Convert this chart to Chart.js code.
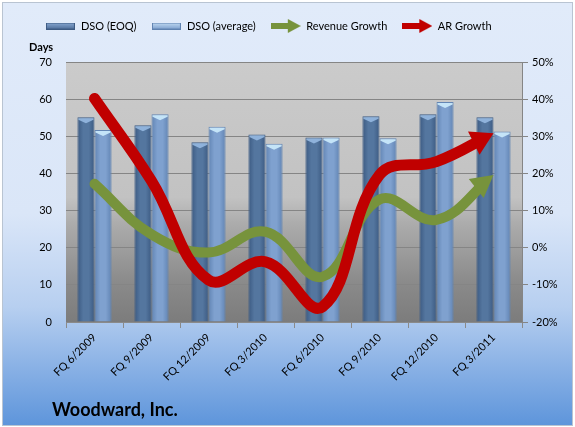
<!DOCTYPE html>
<html><head><meta charset="utf-8">
<script src="https://cdn.jsdelivr.net/npm/chart.js@4/dist/chart.umd.min.js"></script>
<style>html,body{margin:0;padding:0;background:#fff}#wrap{width:575px;height:427px;position:relative}</style>
</head><body><div id="wrap"><canvas id="c" width="575" height="427"></canvas></div>
<script>
const categories = ["FQ 6/2009","FQ 9/2009","FQ 12/2009","FQ 3/2010","FQ 6/2010","FQ 9/2010","FQ 12/2010","FQ 3/2011"];
const dsoEOQ = [55.1,53.0,48.4,50.5,49.7,55.4,55.9,55.1];
const dsoAverage = [51.7,55.9,52.6,48.0,49.7,49.5,59.2,51.3];
const revenueGrowth = [17.2,3.6,-1.3,4.3,-7.8,13.0,7.5,19.6];
const arGrowth = [40.2,18.0,-8.7,-3.8,-15.9,19.6,23.2,30.8];
const daysTicks = [0,10,20,30,40,50,60,70];
const growthTicks = [-20,-10,0,10,20,30,40,50];

const FONT = "Lato, 'Open Sans', sans-serif";

function barSwatch(c1, c2, border){
  const c = document.createElement('canvas'); c.width = 29; c.height = 7;
  const g = c.getContext('2d');
  const gr = g.createLinearGradient(0,0,0,7);
  gr.addColorStop(0,c2); gr.addColorStop(1,c1);
  g.fillStyle = gr; g.fillRect(0,0,29,7);
  g.strokeStyle = border; g.lineWidth = 1; g.strokeRect(0.5,0.5,28,6);
  return c;
}
function arrowSwatch(color, lw){
  const c = document.createElement('canvas'); c.width = 30; c.height = 14;
  const g = c.getContext('2d'); g.fillStyle = color;
  g.fillRect(0,7-lw/2,19,lw);
  g.beginPath(); g.moveTo(30,7); g.lineTo(17,0); g.lineTo(17,14); g.closePath(); g.fill();
  return c;
}
const swatches = [
  barSwatch('#4b6b97','#8aaad4','#3d5a82'),
  barSwatch('#7a9dcc','#c4dcf4','#5f82b0'),
  arrowSwatch('#77933c',6),
  arrowSwatch('#c00000',6)
];

function barFill(dark, mid, offset){
  return function(ctx){
    const chart = ctx.chart; const xs = chart.scales && chart.scales.x;
    if (!xs || ctx.dataIndex === undefined || !chart.chartArea) return mid;
    const cx = xs.getPixelForValue(ctx.dataIndex) + offset;
    const g = chart.ctx.createLinearGradient(cx-9,0,cx+9,0);
    g.addColorStop(0,dark); g.addColorStop(0.35,mid); g.addColorStop(0.65,mid); g.addColorStop(1,dark);
    return g;
  };
}

const bgPlugin = {
  id:'bg',
  afterLayout(chart){
    // the legend in the reference sits left of the canvas centre
    if (chart.legend) { chart.legend.left -= 19; chart.legend.right -= 19; }
  },
  beforeDraw(chart){
    const {ctx, chartArea:a, width, height} = chart;
    ctx.save();
    ctx.fillStyle = '#ffffff'; ctx.fillRect(0,0,width,height);
    const g = ctx.createLinearGradient(0,3,0,425);
    g.addColorStop(0,'#e1ebfa'); g.addColorStop(0.5,'#dae6f8');
    g.addColorStop(0.72,'#b7cff0'); g.addColorStop(1,'#5e95db');
    ctx.fillStyle = g; ctx.fillRect(3,3,569,422);
    ctx.strokeStyle = '#b9c4d2'; ctx.lineWidth = 1; ctx.strokeRect(2.5,2.5,570,423);
    const p = ctx.createLinearGradient(0,a.top,0,a.bottom);
    p.addColorStop(0,'#cbcbcb'); p.addColorStop(0.52,'#c2c2c2'); p.addColorStop(0.62,'#acacac');
    p.addColorStop(0.85,'#8a8a8a'); p.addColorStop(1,'#7c7c7c');
    ctx.fillStyle = p; ctx.fillRect(a.left,a.top,a.right-a.left,a.bottom-a.top);
    ctx.restore();
  },
  afterDraw(chart){
    const ctx = chart.ctx; ctx.save();
    ctx.fillStyle = '#000'; ctx.textBaseline = 'middle'; ctx.textAlign = 'left';
    ctx.font = "bold 18px " + FONT; ctx.fillText('Woodward, Inc.', 52, 410);
    ctx.restore();
  }
};

// layout box under the legend holding the left axis unit label "Days"
const daysPlugin = {
  id:'daysBox',
  start(chart){
    const box = {
      position:'top', weight:500, fullSize:true, options:{},
      top:0, left:0, right:0, bottom:0, width:0, height:0,
      isHorizontal(){ return true; },
      update(maxWidth){ this.width = maxWidth; this.height = 20.5; return {w:this.width,h:this.height}; },
      draw(){
        const ctx = chart.ctx; ctx.save();
        ctx.fillStyle = '#000'; ctx.textBaseline = 'middle'; ctx.textAlign = 'left';
        ctx.font = "bold 11px " + FONT; ctx.fillText('Days', 29, this.top + 5.5);
        ctx.restore();
      }
    };
    Chart.layouts.addBox(chart, box);
  }
};

const capPlugin = {
  id:'caps',
  afterDatasetDraw(chart,args){
    const ds = chart.data.datasets[args.index];
    if (!ds.capColor) return;
    const ctx = chart.ctx; ctx.save();
    args.meta.data.forEach(b => {
      const w = b.width, x = b.x, y = b.y;
      ctx.fillStyle = ds.capColor;
      ctx.beginPath();
      ctx.moveTo(x-w/2+1,y+1); ctx.lineTo(x+w/2-1,y+1); ctx.lineTo(x+w/2-1,y+2.5);
      ctx.lineTo(x,y+6); ctx.lineTo(x-w/2+1,y+2.5); ctx.closePath(); ctx.fill();
    });
    ctx.restore();
  }
};

function dirOf(p){
  let dx = p.x - p.cp1x, dy = p.y - p.cp1y;
  if (!isFinite(dx) || !isFinite(dy) || (dx===0 && dy===0)) { dx = 1; dy = 0; }
  const L = Math.hypot(dx,dy); return [dx/L, dy/L];
}
const arrowPlugin = {
  id:'arrows',
  beforeDatasetDraw(chart,args){
    const ds = chart.data.datasets[args.index]; if (!ds.arrow) return;
    const pts = args.meta.data; const p = pts[pts.length-1];
    const [ux,uy] = dirOf(p); const nx = -uy, ny = ux;
    const bx = p.x - ux*(ds.arrow.len-3), by = p.y - uy*(ds.arrow.len-3);
    const ctx = chart.ctx, B = 3000;
    ctx.save(); ctx.beginPath();
    ctx.moveTo(bx+nx*B, by+ny*B); ctx.lineTo(bx+nx*B-ux*B, by+ny*B-uy*B);
    ctx.lineTo(bx-nx*B-ux*B, by-ny*B-uy*B); ctx.lineTo(bx-nx*B, by-ny*B);
    ctx.closePath(); ctx.clip();
  },
  afterDatasetDraw(chart,args){
    const ds = chart.data.datasets[args.index]; if (!ds.arrow) return;
    const ctx = chart.ctx; ctx.restore();
    const pts = args.meta.data; const p = pts[pts.length-1];
    const [ux,uy] = dirOf(p); const nx = -uy, ny = ux;
    const L = ds.arrow.len, H = ds.arrow.half;
    const bx = p.x - ux*L, by = p.y - uy*L;
    ctx.save(); ctx.fillStyle = ds.borderColor;
    ctx.beginPath(); ctx.moveTo(p.x,p.y);
    ctx.lineTo(bx+nx*H, by+ny*H); ctx.lineTo(bx-nx*H, by-ny*H); ctx.closePath(); ctx.fill();
    ctx.restore();
  }
};

new Chart(document.getElementById('c'), {
  data: {
    labels: categories,
    datasets: [
      { type:'bar', label:'DSO (EOQ)', data:dsoEOQ, yAxisID:'y', order:2,
        backgroundColor: barFill('#3a5880','#54769f',-8.5), borderColor:'#3f5d85', borderWidth:{left:1,right:1,top:1,bottom:0},
        capColor:'rgba(150,185,225,0.9)', categoryPercentage:0.6, barPercentage:1.0 },
      { type:'bar', label:'DSO (average)', data:dsoAverage, yAxisID:'y', order:3,
        backgroundColor: barFill('#5f82b1','#7fa1cf',8.5), borderColor:'#6486b4', borderWidth:{left:1,right:1,top:1,bottom:0},
        capColor:'rgba(200,232,250,0.95)', categoryPercentage:0.6, barPercentage:1.0 },
      { type:'line', label:'Revenue Growth', data:revenueGrowth, yAxisID:'y1', order:1,
        borderColor:'#77933c', backgroundColor:'#77933c', borderWidth:10, tension:0.4,
        pointRadius:0, pointHoverRadius:0, fill:false, borderCapStyle:'round', arrow:{len:22, half:12} },
      { type:'line', label:'AR Growth', data:arGrowth, yAxisID:'y1', order:0,
        borderColor:'#c00000', backgroundColor:'#c00000', borderWidth:11, tension:0.4,
        pointRadius:0, pointHoverRadius:0, fill:false, borderCapStyle:'round', arrow:{len:22, half:13} }
    ]
  },
  options: {
    responsive:false, animation:false, devicePixelRatio:1,
    layout:{ padding:{ top:5.5, left:0, right:0, bottom:0 } },
    plugins:{
      tooltip:{enabled:false},
      legend:{
        position:'top',
        labels:{
          font:{family:FONT, size:11}, color:'#000', padding:15, usePointStyle:true, pointStyleWidth:30,
          generateLabels(chart){
            return chart.data.datasets.map((d,i)=>({
              text:d.label, pointStyle:swatches[i], fillStyle:'transparent', strokeStyle:'transparent',
              lineWidth:0, hidden:false, datasetIndex:i, fontColor:'#000'
            }));
          }
        }
      }
    },
    scales:{
      x:{
        type:'category', offset:true,
        grid:{ offset:true, drawOnChartArea:false, color:'#8a8a8a', tickLength:6 },
        border:{ color:'#8a8a8a' },
        ticks:{ font:{family:FONT, size:11}, color:'#000', maxRotation:45, minRotation:45, autoSkip:false },
        afterFit(s){ s.height = 105; }
      },
      y:{
        position:'left', min:0, max:70,
        afterBuildTicks(s){ s.ticks = daysTicks.map(v=>({value:v})); },
        grid:{ color:'#858585', lineWidth:1, tickLength:0, drawTicks:false },
        border:{ display:false },
        ticks:{ font:{family:FONT, size:11}, color:'#000', padding:14 },
        afterFit(s){ s.width = 66; }
      },
      y1:{
        position:'right', min:-20, max:50,
        afterBuildTicks(s){ s.ticks = growthTicks.map(v=>({value:v})); },
        grid:{ drawOnChartArea:false, color:'#858585', tickLength:6 },
        border:{ color:'#858585' },
        ticks:{ font:{family:FONT, size:11}, color:'#000', padding:4, callback:v=>v+'%' },
        afterFit(s){ s.width = 53; }
      }
    }
  },
  plugins:[bgPlugin, daysPlugin, capPlugin, arrowPlugin]
});
</script></body></html>
